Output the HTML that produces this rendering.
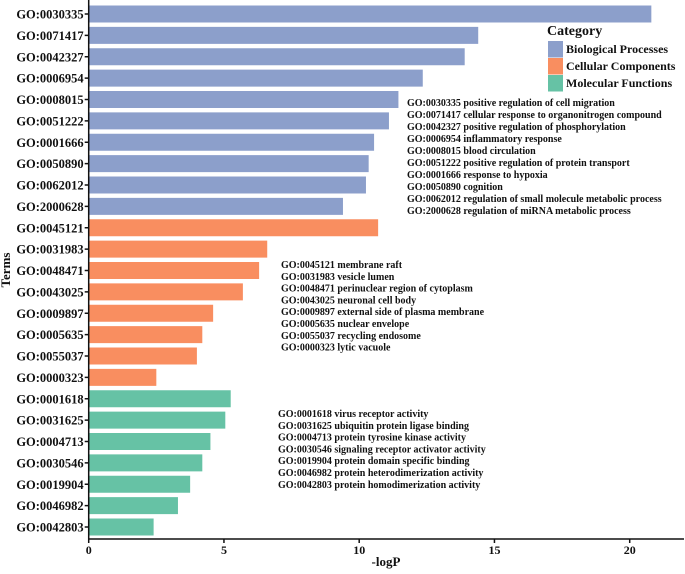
<!DOCTYPE html>
<html><head><meta charset="utf-8">
<style>
body{margin:0;background:#fff;}
svg text{font-family:"Liberation Serif",serif;font-weight:bold;fill:#111;}
</style></head>
<body>
<svg id="chart" width="685" height="569">
<g id="bars"></g>
<g id="yax"></g>
<g id="xax"></g>
<text x="10" y="270" font-size="13" transform="rotate(-90 10 270)" text-anchor="middle">Terms</text>
<text x="386" y="566" font-size="13" text-anchor="middle">-logP</text>
<g>
<text x="547" y="35" font-size="14">Category</text>
<rect x="548" y="41" width="15" height="16.5" fill="#8c9fcb"/>
<rect x="548" y="58" width="15" height="16.5" fill="#f98e60"/>
<rect x="548" y="75" width="15" height="16.5" fill="#66c2a5"/>
<text x="566" y="53" font-size="12">Biological Processes</text>
<text x="566" y="70" font-size="12">Cellular Components</text>
<text x="566" y="87" font-size="12">Molecular Functions</text>
</g>
<g id="notes"></g>
</svg>
<script>
const terms=["GO:0030335","GO:0071417","GO:0042327","GO:0006954","GO:0008015","GO:0051222","GO:0001666","GO:0050890","GO:0062012","GO:2000628","GO:0045121","GO:0031983","GO:0048471","GO:0043025","GO:0009897","GO:0005635","GO:0055037","GO:0000323","GO:0001618","GO:0031625","GO:0004713","GO:0030546","GO:0019904","GO:0046982","GO:0042803"];
const values=[20.8,14.4,13.9,12.35,11.45,11.1,10.55,10.35,10.25,9.4,10.7,6.6,6.3,5.7,4.6,4.2,4.0,2.5,5.25,5.05,4.5,4.2,3.75,3.3,2.4];
const categories=["BP","BP","BP","BP","BP","BP","BP","BP","BP","BP","CC","CC","CC","CC","CC","CC","CC","CC","MF","MF","MF","MF","MF","MF","MF"];
const xTicks=[0,5,10,15,20];
const bpNotes=["GO:0030335 positive regulation of cell migration","GO:0071417 cellular response to organonitrogen compound","GO:0042327 positive regulation of phosphorylation","GO:0006954 inflammatory response","GO:0008015 blood circulation","GO:0051222 positive regulation of protein transport","GO:0001666 response to hypoxia","GO:0050890 cognition","GO:0062012 regulation of small molecule metabolic process","GO:2000628 regulation of miRNA metabolic process"];
const ccNotes=["GO:0045121 membrane raft","GO:0031983 vesicle lumen","GO:0048471 perinuclear region of cytoplasm","GO:0043025 neuronal cell body","GO:0009897 external side of plasma membrane","GO:0005635 nuclear envelope","GO:0055037 recycling endosome","GO:0000323 lytic vacuole"];
const mfNotes=["GO:0001618 virus receptor activity","GO:0031625 ubiquitin protein ligase binding","GO:0004713 protein tyrosine kinase activity","GO:0030546 signaling receptor activator activity","GO:0019904 protein domain specific binding","GO:0046982 protein heterodimerization activity","GO:0042803 protein homodimerization activity"];
const colors={BP:"#8c9fcb",CC:"#f98e60",MF:"#66c2a5"};
const NS="http://www.w3.org/2000/svg";
const x0=88.7,pxPer=27.05,yTop=14,step=21.375,bh=17,axisY=539;
const xs=v=>x0+v*pxPer, ys=i=>yTop+i*step;
function mk(tag,attrs,parent){const e=document.createElementNS(NS,tag);for(const k in attrs)e.setAttribute(k,attrs[k]);parent.appendChild(e);return e;}
const bars=document.getElementById('bars'),yax=document.getElementById('yax'),xax=document.getElementById('xax'),notes=document.getElementById('notes');
terms.forEach((t,i)=>{
 const r=mk('rect',{x:x0,y:ys(i)-bh/2,width:xs(values[i])-x0,height:bh,fill:colors[categories[i]]},bars);
 
 
 const tk=mk('line',{x1:x0-4,x2:x0,y1:ys(i),y2:ys(i),stroke:'#111','stroke-width':1.5},yax);
 
 
 const lb=mk('text',{x:x0-5,y:ys(i)+4.5,'font-size':12.5,'text-anchor':'end'},yax);
 lb.textContent=t;
 
 
});
const ya=mk('line',{x1:x0,x2:x0,y1:0,y2:axisY,stroke:'#111','stroke-width':1.5},yax);


const xa=mk('line',{x1:x0,x2:684,y1:axisY,y2:axisY,stroke:'#111','stroke-width':1.5},xax);


xTicks.forEach(v=>{
 const tk=mk('line',{x1:xs(v),x2:xs(v),y1:axisY,y2:axisY+4,stroke:'#111','stroke-width':1.5},xax);
 
 
 const lb=mk('text',{x:xs(v),y:axisY+15,'font-size':12,'text-anchor':'middle'},xax);
 lb.textContent=v;
 
 
});
function block(arr,x,y,sp){arr.forEach((s,i)=>{
 const t=mk('text',{x:x,y:y+i*sp,'font-size':10},notes);
 t.textContent=s;
 
 
});}
block(bpNotes,407,106,12);
block(ccNotes,281,268,11.8);
block(mfNotes,278,417,11.8);
</script>
</body></html>
